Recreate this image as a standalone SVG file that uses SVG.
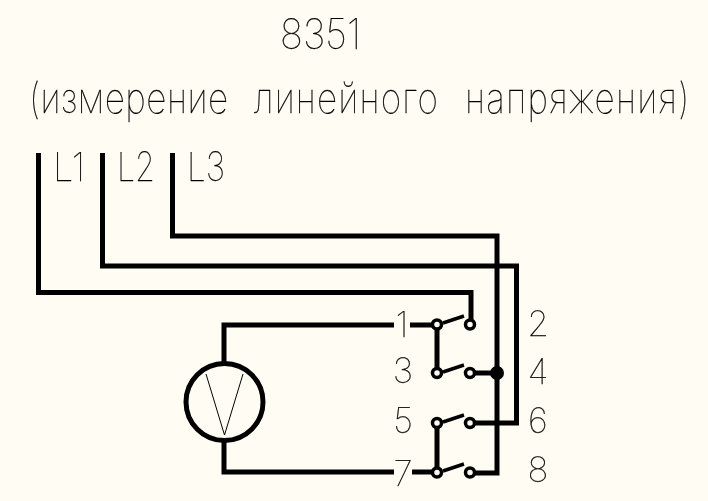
<svg xmlns="http://www.w3.org/2000/svg" width="708" height="501" viewBox="0 0 708 501">
<defs><filter id="gray" x="0" y="0" width="1" height="1" filterUnits="objectBoundingBox"><feOffset dx="0" dy="0"/></filter></defs>
<style>
text{font-family:"Inter","Roboto","Liberation Sans",sans-serif;font-weight:100;fill:#000;stroke:#000;stroke-width:.25}
.t{font-size:42px}
.l{font-size:40px}
.n{font-size:35px;text-anchor:middle}
.w{fill:none;stroke:#000;stroke-width:5;stroke-linejoin:miter}
.b{fill:none;stroke:#000;stroke-width:3.500}
.c{fill:#fffdf3;stroke:#000;stroke-width:3.500}
</style>
<rect width="708" height="501" fill="#fffdf3"/>
<g id="connectors">
<path class="w" d="M38.500 153V292.500H471V324"/>
<path class="w" d="M102.500 153V266H516.500V423H470"/>
<path class="w" d="M172.500 153V236H497V473H470"/>
<path class="w" d="M224 364V325H394M410 325H437V373M224 440V472H394M412 472H437V423"/>
<path class="w" d="M470 373H497"/>
<path class="b" d="M443 323L464 316M443 372L464 365M443 422L464 415M443 471L464 464"/>
<circle cx="497" cy="373" r="7" fill="#000"/>
</g>
<g id="voltmeter">
<circle cx="224.500" cy="402" r="38.500" fill="none" stroke="#000" stroke-width="5"/>
<path d="M206 374L224.500 435L243 374" fill="none" stroke="#000" stroke-width="1"/>
</g>
<g id="contacts">
<circle class="c" cx="437" cy="324.500" r="4.500"/><circle class="c" cx="470" cy="324.500" r="4.500"/>
<circle class="c" cx="437" cy="373" r="4.500"/><circle class="c" cx="470" cy="373" r="4.500"/>
<circle class="c" cx="437" cy="423" r="4.500"/><circle class="c" cx="470" cy="423" r="4.500"/>
<circle class="c" cx="437" cy="472.500" r="4.500"/><circle class="c" cx="470" cy="472.500" r="4.500"/>
</g>
<g id="labels" filter="url(#gray)">
<text class="t" x="280" y="49" textLength="81" lengthAdjust="spacingAndGlyphs">8351</text>
<g transform="translate(29 113) scale(.84 1)"><text class="t" textLength="237" lengthAdjust="spacing">(измерение</text></g>
<g transform="translate(254 113) scale(.84 1)"><text class="t" textLength="219" lengthAdjust="spacing">линейного</text></g>
<g transform="translate(465 113) scale(.84 1)"><text class="t" textLength="267" lengthAdjust="spacing">напряжения)</text></g>
<text class="l" x="53" y="181" textLength="32" lengthAdjust="spacingAndGlyphs">L1</text>
<text class="l" x="117" y="181" textLength="38" lengthAdjust="spacingAndGlyphs">L2</text>
<text class="l" x="187" y="181" textLength="38" lengthAdjust="spacingAndGlyphs">L3</text>
<text class="n" x="402" y="337">1</text><text class="n" x="403" y="383">3</text><text class="n" x="403" y="433">5</text><text class="n" x="403" y="486">7</text>
<text class="n" x="538" y="336">2</text><text class="n" x="538" y="384">4</text><text class="n" x="538" y="433">6</text><text class="n" x="538" y="482">8</text>
</g>
</svg>
